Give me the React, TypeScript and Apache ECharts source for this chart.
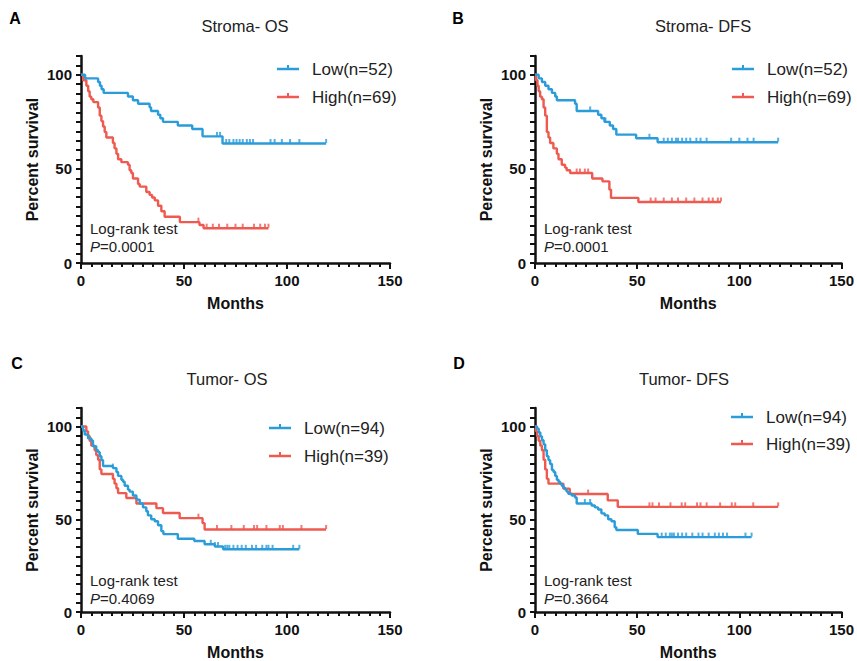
import React, { useEffect, useRef } from 'react';
import * as echarts from 'echarts';

const FONT = '"Liberation Sans", Arial, Helvetica, sans-serif';
const BLUE = '#2A9CD9';
const RED = '#EE5A50';

// ---------- A: Stroma - OS ----------
const aLowT = [0, 2, 8.3, 9.2, 10, 11, 22.8, 25.2, 27.7, 33.3, 34, 37.4, 38.5, 39.8, 47, 54, 59, 68.7];
const aLowS = [100, 98.1, 96.2, 94.2, 92.3, 90.4, 88.5, 86.5, 84.6, 82.7, 80.8, 78.8, 76.9, 75.0, 73.1, 71.2, 67.3, 63.5];
const aLowC = [66, 67.5, 70.5, 72, 74, 75.5, 77, 78.5, 80.5, 82, 83.5, 92, 94, 97.5, 101.5, 106, 119];
const aHighT = [0, 1, 2.6, 3.5, 4.2, 5, 6, 8.3, 9.1, 9.9, 10.7, 11.5, 12.3, 15.5, 16.3, 17.2, 18, 19.6, 22.8, 23.6, 24.4, 25.2, 27.7, 28.5, 31.7, 33.3, 34.5, 35.8, 37.4, 39, 40.6, 48, 57.5, 59.5];
const aHighS = [100, 97.1, 94.2, 91.3, 88.4, 87.0, 85.5, 82.6, 78.3, 75.4, 72.5, 69.6, 66.7, 63.8, 60.9, 58.0, 55.1, 53.6, 52.2, 49.3, 47.8, 44.9, 42.0, 40.6, 37.7, 36.2, 34.8, 33.3, 30.4, 27.5, 24.6, 21.7, 20.2, 18.5];
const aHighC = [57, 61, 64, 67, 71, 75, 78.5, 84, 87, 89.3, 91];

// ---------- B: Stroma - DFS ----------
const bLowT = [0, 1.8, 3.4, 5, 6.6, 8.3, 9.9, 10.7, 19.6, 20.4, 30.9, 32.5, 34, 36.6, 38.2, 39.8, 49.5, 60];
const bLowS = [100, 98.1, 96.2, 94.2, 92.3, 90.4, 88.5, 86.5, 84.6, 80.8, 78.8, 76.9, 75.0, 73.1, 71.2, 68.2, 66.3, 64.2];
const bLowC = [27, 34.5, 56, 63, 65, 67, 69, 70, 72, 74, 76, 79, 81, 84, 96, 100, 104, 107, 119];
const bHighT = [0, 0.5, 1.2, 1.8, 2.5, 3.4, 4.2, 5, 5.8, 6.6, 7.4, 9, 10.7, 11.5, 13.1, 14.7, 15.5, 17.2, 28, 33, 36.4, 37.2, 50.6];
const bHighS = [100, 97.1, 94.2, 91.3, 88.4, 87.0, 82.6, 78.3, 69.6, 66.7, 63.8, 60.9, 58.0, 55.1, 52.2, 50.7, 49.3, 47.8, 44.9, 43.4, 39.0, 34.6, 32.4];
const bHighC = [20.4, 22, 24.4, 26, 56.6, 59, 63, 67, 70, 74, 78, 82, 85, 87, 89.5, 91];

// ---------- C: Tumor - OS ----------
const cLowT = [0, 1, 1.8, 3.4, 5, 5.8, 7.4, 8.3, 9.1, 9.9, 10.7, 15.5, 17.2, 18, 19.6, 20.4, 21.2, 22.8, 23.6, 25.2, 26.9, 28.5, 30.1, 31.7, 32.5, 34.1, 35.8, 37.4, 39, 40, 47, 55, 60, 65, 69];
const cLowS = [100, 97.9, 95.7, 93.6, 92.5, 89.4, 87.2, 86.2, 84.0, 81.9, 78.7, 77.6, 75.5, 73.4, 71.3, 70.2, 68.1, 66.0, 64.9, 62.8, 60.6, 58.5, 56.4, 54.3, 52.1, 50.0, 48.9, 46.8, 43.6, 42.0, 39.5, 38.3, 36.5, 35.3, 33.8];
const cLowC = [15.5, 63, 65, 66.5, 70, 71, 72, 74, 76, 78, 80, 83, 85, 88, 90, 91, 93, 103, 106];
const cHighT = [0, 2.6, 3.4, 4.2, 5, 6.6, 7.4, 8.3, 9.1, 9.9, 15.5, 16.3, 17.2, 18, 22, 26.9, 36.6, 39.8, 47.9, 59, 60];
const cHighS = [100, 97.4, 94.9, 92.3, 89.7, 87.2, 84.6, 82.1, 76.9, 74.4, 71.8, 69.2, 66.7, 64.1, 61.5, 58.5, 56.0, 53.4, 50.6, 47.9, 44.5];
const cHighC = [57, 66, 73, 79, 84, 85.5, 90, 96.5, 98, 107, 119];

// ---------- D: Tumor - DFS ----------
const dLowT = [0, 1, 1.8, 2.6, 3.4, 4.2, 5, 5.8, 6.6, 7.4, 8.3, 9.1, 9.9, 10.7, 11.5, 12.3, 13.1, 13.9, 14.7, 15.5, 16.3, 18, 19.6, 20.4, 27.7, 29.3, 30.9, 32.5, 34.1, 35.8, 37.4, 39, 39.8, 50.3, 60];
const dLowS = [100, 98.9, 96.8, 94.7, 92.6, 90.4, 87.2, 84.0, 81.9, 79.8, 76.6, 75.5, 73.4, 71.3, 70.2, 69.1, 68.1, 67.0, 66.0, 64.9, 63.8, 62.8, 61.7, 58.5, 57.4, 56.4, 55.3, 53.2, 52.1, 50.0, 48.9, 45.7, 44.2, 42.1, 40.4];
const dLowC = [24.4, 27, 62, 64, 66, 67, 68, 70, 72, 74, 77, 80, 82, 85, 88, 90, 92, 94, 103, 106];
const dHighT = [0, 0.5, 1, 1.8, 2.6, 3.4, 4.2, 5, 5.8, 6.6, 13.9, 17, 35.6, 40.5];
const dHighS = [100, 97.4, 94.9, 92.3, 89.7, 87.2, 82.1, 76.9, 71.8, 69.2, 66.5, 63.6, 60.2, 56.7];
const dHighC = [26, 56, 57.5, 60.7, 66.3, 71.8, 73.5, 79.3, 81, 84, 90.6, 96.3, 98, 106.8, 119];

const titles = ['Stroma- OS', 'Stroma- DFS', 'Tumor- OS', 'Tumor- DFS'];
const letters = ['A', 'B', 'C', 'D'];
const lowLabels = ['Low(n=52)', 'Low(n=52)', 'Low(n=94)', 'Low(n=94)'];
const highLabels = ['High(n=69)', 'High(n=69)', 'High(n=39)', 'High(n=39)'];
const pValues = ['0.0001', '0.0001', '0.4069', '0.3664'];
const xTicks = [0, 50, 100, 150];
const yTickLabels = [0, 50, 100];

const curves = [
  { low: [aLowT, aLowS, aLowC], high: [aHighT, aHighS, aHighC] },
  { low: [bLowT, bLowS, bLowC], high: [bHighT, bHighS, bHighC] },
  { low: [cLowT, cLowS, cLowC], high: [cHighT, cHighS, cHighC] },
  { low: [dLowT, dLowS, dLowC], high: [dHighT, dHighS, dHighC] },
];

// layout (pixels)
const layout = [
  { grid: { left: 81, top: 56, width: 309, height: 207 }, letter: [15, 18], title: [245, 26], legend: [277, 69, 97], ann: [90, 228] },
  { grid: { left: 535, top: 56, width: 309, height: 207 }, letter: [458, 18], title: [703, 26], legend: [732, 69, 97], ann: [544, 228] },
  { grid: { left: 81, top: 408, width: 309, height: 206 }, letter: [17, 363], title: [227, 379], legend: [269, 428, 456], ann: [90, 580] },
  { grid: { left: 535, top: 408, width: 309, height: 206 }, letter: [459, 363], title: [684, 379], legend: [731, 417, 444], ann: [544, 580] },
];

function survAt(T: number[], S: number[], t: number) {
  let v = S[0];
  for (let i = 0; i < T.length; i++) if (T[i] <= t) v = S[i];
  return v;
}
function stepData(T: number[], S: number[], C: number[]) {
  const d = T.map((t, i) => [t, S[i]]);
  const end = Math.max(T[T.length - 1], ...C);
  d.push([end, S[S.length - 1]]);
  return d;
}
function censorData(T: number[], S: number[], C: number[]) {
  return C.map((t) => [t, survAt(T, S, t)]);
}

function buildOption() {
  const grid: any[] = [];
  const xAxis: any[] = [];
  const yAxis: any[] = [];
  const series: any[] = [];
  const graphic: any[] = [];
  const axisColor = '#111';

  layout.forEach((L, i) => {
    grid.push({ ...L.grid });
    xAxis.push({
      gridIndex: i, type: 'value', min: 0, max: xTicks[xTicks.length - 1], interval: 50,
      axisLine: { show: true, onZero: false, lineStyle: { color: axisColor, width: 2.5 } },
      axisTick: { show: true, length: 6, lineStyle: { color: axisColor, width: 2 } },
      minorTick: { show: true, splitNumber: 10, length: 4, lineStyle: { color: axisColor, width: 2 } },
      splitLine: { show: false },
      axisLabel: { fontSize: 15, fontWeight: 'bold', color: axisColor, margin: 10, fontFamily: FONT },
      name: 'Months', nameLocation: 'middle', nameGap: 32,
      nameTextStyle: { fontSize: 16, fontWeight: 'bold', color: axisColor, fontFamily: FONT },
    });
    yAxis.push({
      gridIndex: i, type: 'value', min: 0, max: 110, interval: 5,
      axisLine: { show: true, onZero: false, lineStyle: { color: axisColor, width: 2.5 } },
      axisTick: { show: true, length: 5, lineStyle: { color: axisColor, width: 2 } },
      splitLine: { show: false },
      axisLabel: {
        interval: 0, fontSize: 15, fontWeight: 'bold', color: axisColor, margin: 9, fontFamily: FONT,
        formatter: (v: number) => (yTickLabels.includes(v) ? String(v) : ''),
      },
      name: 'Percent survival', nameLocation: 'middle', nameGap: 41,
      nameTextStyle: { fontSize: 16, fontWeight: 'bold', color: axisColor, fontFamily: FONT },
    });

    const c = curves[i];
    const [hT, hS, hC] = c.high as number[][];
    const [lT, lS, lC] = c.low as number[][];
    const addCurve = (T: number[], S: number[], C: number[], color: string, name: string) => {
      series.push({
        type: 'line', name, xAxisIndex: i, yAxisIndex: i, step: 'end', showSymbol: false,
        data: stepData(T, S, C), lineStyle: { color, width: 2.4 }, itemStyle: { color }, silent: true,
      });
      series.push({
        type: 'scatter', name: name + ' censored', xAxisIndex: i, yAxisIndex: i,
        symbol: 'rect', symbolSize: [2, 4], symbolOffset: [0, -2.5],
        data: censorData(T, S, C), itemStyle: { color }, silent: true,
      });
    };
    addCurve(hT, hS, hC, RED, highLabels[i]);
    addCurve(lT, lS, lC, BLUE, lowLabels[i]);

    graphic.push({
      type: 'text', x: L.letter[0], y: L.letter[1],
      style: { text: letters[i], fontSize: 16, fontWeight: 'bold', fontFamily: FONT, fill: '#000', align: 'center', verticalAlign: 'middle', textAlign: 'center', textVerticalAlign: 'middle' },
    });
    graphic.push({
      type: 'text', x: L.title[0], y: L.title[1],
      style: { text: titles[i], fontSize: 16.5, fontFamily: FONT, fill: '#222', align: 'center', verticalAlign: 'middle', textAlign: 'center', textVerticalAlign: 'middle' },
    });
    const [lx, ly1, ly2] = L.legend;
    [[ly1, BLUE, lowLabels[i]], [ly2, RED, highLabels[i]]].forEach(([yy, col, label]: any) => {
      graphic.push({ type: 'line', shape: { x1: lx, y1: yy, x2: lx + 22, y2: yy }, style: { stroke: col, lineWidth: 2.5 } });
      graphic.push({ type: 'rect', shape: { x: lx + 10, y: yy - 4, width: 2, height: 4 }, style: { fill: col } });
      graphic.push({
        type: 'text', x: lx + 35, y: yy,
        style: { text: label, fontSize: 17, fontFamily: FONT, fill: '#222', align: 'left', verticalAlign: 'middle', textAlign: 'left', textVerticalAlign: 'middle' },
      });
    });
    graphic.push({
      type: 'text', x: L.ann[0], y: L.ann[1],
      style: { text: 'Log-rank test', fontSize: 15, fontFamily: FONT, fill: '#222', align: 'left', verticalAlign: 'middle', textAlign: 'left', textVerticalAlign: 'middle' },
    });
    graphic.push({
      type: 'text', x: L.ann[0], y: L.ann[1] + 18,
      style: {
        text: '{i|P}=' + pValues[i], fontSize: 15, fontFamily: FONT, fill: '#222', align: 'left', verticalAlign: 'middle', textAlign: 'left', textVerticalAlign: 'middle',
        rich: { i: { fontStyle: 'italic', fontSize: 15, fontFamily: FONT, fill: '#222' } },
      },
    });
  });

  return { animation: false, backgroundColor: '#fff', grid, xAxis, yAxis, series, graphic };
}

export default function App() {
  const ref = useRef<HTMLDivElement>(null);
  useEffect(() => {
    if (!ref.current) return;
    const chart = echarts.init(ref.current, null, { renderer: 'svg' });
    chart.setOption(buildOption() as any);
    return () => chart.dispose();
  }, []);
  return <div ref={ref} style={{ position: 'fixed', left: 0, top: 0, width: 857, height: 661, background: '#fff' }} />;
}
